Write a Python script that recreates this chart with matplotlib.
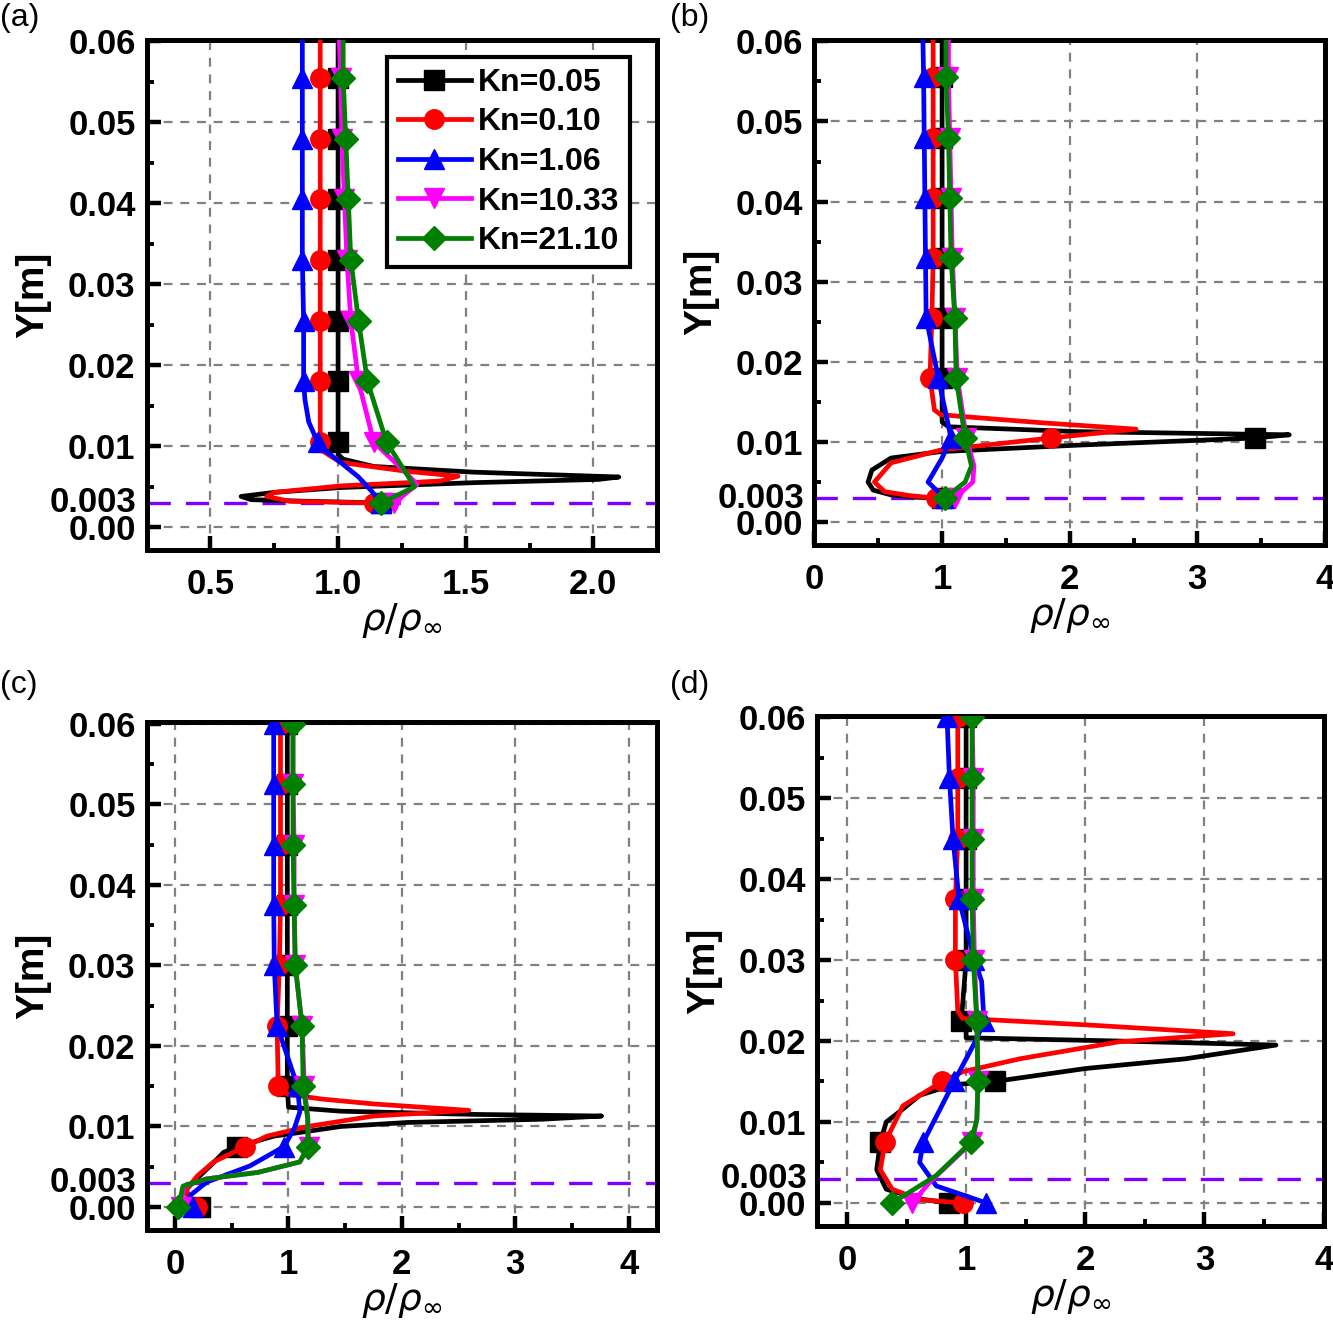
import numpy as np
import matplotlib
matplotlib.use('Agg')
import matplotlib.pyplot as plt
import matplotlib.transforms as mtransforms
from matplotlib.ticker import MultipleLocator

plt.rcParams['font.family'] = ['Liberation Sans', 'DejaVu Sans']
plt.rcParams['mathtext.fontset'] = 'dejavusans'

labels = ['Kn=0.05', 'Kn=0.10', 'Kn=1.06', 'Kn=10.33', 'Kn=21.10']
colors = ['black', 'red', 'blue', 'magenta', 'green']
markers = ['s', 'o', '^', 'v', 'D']

# ---- panel (a) ----
a_marks = [0.003, 0.0105, 0.018, 0.0255, 0.033, 0.0405, 0.048, 0.0555]
a_y_005 = [0.060, 0.0555, 0.048, 0.0405, 0.033, 0.0255, 0.018, 0.0105, 0.0090, 0.0084, 0.0075, 0.0068,
           0.0062, 0.0059, 0.0055, 0.0049, 0.0043, 0.0038, 0.0034, 0.0032, 0.003]
a_x_005 = [1.00, 1.00, 1.00, 1.00, 1.00, 1.00, 1.00, 1.00, 1.00, 1.02, 1.14, 1.53,
           2.10, 2.02, 1.53, 1.01, 0.75, 0.62, 0.66, 0.88, 1.17]
a_y_010 = [0.060, 0.0555, 0.048, 0.0405, 0.033, 0.0255, 0.018, 0.0105, 0.0096, 0.0080, 0.0069, 0.0063,
           0.0057, 0.0051, 0.0043, 0.0038, 0.0032, 0.003]
a_x_010 = [0.93, 0.93, 0.93, 0.93, 0.93, 0.93, 0.93, 0.93, 0.93, 1.01, 1.27, 1.47,
           1.40, 1.01, 0.75, 0.72, 0.81, 1.14]
a_y_106 = [0.060, 0.0555, 0.048, 0.0405, 0.033, 0.0255, 0.018, 0.0158, 0.0130, 0.0105, 0.0092, 0.0080,
           0.0062, 0.0045, 0.003]
a_x_106 = [0.86, 0.86, 0.86, 0.86, 0.86, 0.865, 0.865, 0.87, 0.885, 0.92, 0.96, 1.01,
           1.08, 1.13, 1.17]
a_y_1033 = [0.060, 0.0555, 0.048, 0.0405, 0.033, 0.0255, 0.018, 0.0105, 0.0075, 0.0053, 0.003]
a_x_1033 = [1.005, 1.01, 1.015, 1.025, 1.035, 1.05, 1.08, 1.14, 1.24, 1.31, 1.22]
a_y_2110 = [0.060, 0.0555, 0.048, 0.0405, 0.033, 0.0255, 0.018, 0.0105, 0.0075, 0.0050, 0.003]
a_x_2110 = [1.02, 1.02, 1.03, 1.04, 1.05, 1.08, 1.115, 1.19, 1.25, 1.30, 1.17]

# ---- panel (b) ----
b_marks = a_marks
b_y_005 = [0.060, 0.0555, 0.048, 0.0405, 0.033, 0.0255, 0.018, 0.0125, 0.0119, 0.0113, 0.0109, 0.0105,
           0.0096, 0.0088, 0.0080, 0.0065, 0.0050, 0.0040, 0.0034, 0.0031, 0.003]
b_x_005 = [1.0, 1.0, 1.0, 1.0, 1.0, 1.0, 1.0, 1.0, 1.05, 2.05, 3.72, 3.45,
           2.05, 0.99, 0.60, 0.45, 0.42, 0.46, 0.60, 0.80, 1.0]
b_y_010 = [0.060, 0.0555, 0.048, 0.0405, 0.033, 0.0255, 0.018, 0.0140, 0.0134, 0.0124, 0.0116, 0.0105,
           0.0090, 0.0074, 0.0050, 0.0038, 0.0033, 0.003]
b_x_010 = [0.93, 0.93, 0.93, 0.93, 0.93, 0.92, 0.905, 0.94, 0.99, 1.78, 2.52, 1.85,
           0.99, 0.60, 0.47, 0.55, 0.75, 0.95]
b_y_106 = [0.060, 0.0555, 0.048, 0.0405, 0.033, 0.0255, 0.018, 0.0105, 0.0080, 0.0050, 0.003]
b_x_106 = [0.85, 0.855, 0.86, 0.865, 0.87, 0.875, 0.97, 1.07, 1.00, 0.89, 1.02]
b_y_1033 = [0.060, 0.0555, 0.048, 0.0405, 0.033, 0.0255, 0.018, 0.0105, 0.0070, 0.0050, 0.003]
b_x_1033 = [1.05, 1.05, 1.06, 1.07, 1.08, 1.10, 1.12, 1.19, 1.25, 1.24, 1.10]
b_y_2110 = [0.060, 0.0555, 0.048, 0.0405, 0.033, 0.0255, 0.018, 0.0105, 0.0070, 0.0050, 0.003]
b_x_2110 = [1.03, 1.03, 1.05, 1.06, 1.07, 1.10, 1.11, 1.18, 1.23, 1.18, 1.02]

# ---- panel (c) ----
c_marks = [0.0, 0.0075, 0.015, 0.0225, 0.030, 0.0375, 0.045, 0.0525, 0.06]
c_y_005 = [0.06, 0.0525, 0.045, 0.0375, 0.030, 0.0225, 0.015, 0.0124, 0.0119, 0.0115, 0.0113, 0.0109,
           0.0105, 0.0100, 0.0094, 0.0088, 0.0075, 0.0068, 0.0051, 0.0035, 0.0022, 0.0010, 0.0]
c_x_005 = [0.99, 0.99, 0.99, 0.99, 0.99, 0.99, 0.99, 1.00, 1.46, 2.64, 3.76, 3.23,
           2.05, 1.46, 1.17, 0.87, 0.55, 0.43, 0.31, 0.19, 0.10, 0.12, 0.22]
c_y_010 = [0.06, 0.0525, 0.045, 0.0375, 0.030, 0.0225, 0.015, 0.0140, 0.0134, 0.0128, 0.0120, 0.0113,
           0.0100, 0.0088, 0.0075, 0.0056, 0.0039, 0.0022, 0.0010, 0.0]
c_x_010 = [0.93, 0.93, 0.93, 0.93, 0.92, 0.90, 0.91, 0.99, 1.30, 1.75, 2.59, 1.75,
           1.17, 0.81, 0.62, 0.34, 0.20, 0.10, 0.13, 0.19]
c_y_106 = [0.06, 0.0525, 0.045, 0.0375, 0.030, 0.0225, 0.0175, 0.015, 0.0118, 0.0097, 0.0075, 0.0051,
           0.0031, 0.0014, 0.0]
c_x_106 = [0.87, 0.87, 0.87, 0.87, 0.875, 0.90, 1.02, 1.08, 1.10, 1.05, 0.96, 0.66,
           0.28, 0.13, 0.16]
c_y_1033 = [0.06, 0.0525, 0.045, 0.0375, 0.030, 0.0225, 0.015, 0.0110, 0.0075, 0.0056, 0.0043, 0.0035,
            0.0026, 0.0]
c_x_1033 = [1.04, 1.04, 1.05, 1.05, 1.06, 1.12, 1.14, 1.17, 1.18, 1.10, 0.73, 0.28, 0.08, 0.05]
c_y_2110 = [0.06, 0.0525, 0.045, 0.0375, 0.030, 0.0225, 0.015, 0.0110, 0.0075, 0.0056, 0.0043, 0.0035,
            0.0026, 0.0]
c_x_2110 = [1.04, 1.04, 1.04, 1.05, 1.06, 1.12, 1.13, 1.17, 1.17, 1.10, 0.73, 0.28, 0.07, 0.03]

# ---- panel (d) ----
d_marks = c_marks
d_y_005 = [0.06, 0.0525, 0.045, 0.0375, 0.030, 0.0225, 0.0212, 0.0204, 0.0200, 0.0195, 0.0178, 0.0166,
           0.015, 0.0146, 0.0133, 0.0116, 0.0100, 0.0075, 0.0041, 0.0017, 0.0005, 0.0]
d_x_005 = [1.0, 1.0, 1.0, 1.0, 1.0, 0.96, 1.0, 1.0, 2.28, 3.60, 2.84, 2.0,
           1.24, 0.89, 0.61, 0.47, 0.33, 0.28, 0.25, 0.33, 0.60, 0.86]
d_y_010 = [0.06, 0.0525, 0.045, 0.0375, 0.030, 0.0237, 0.0228, 0.0220, 0.0209, 0.0199, 0.0178, 0.0162,
           0.015, 0.012, 0.0075, 0.0041, 0.0017, 0.0004, 0.0]
d_x_010 = [0.93, 0.93, 0.93, 0.91, 0.91, 0.93, 0.97, 2.0, 3.24, 2.28, 1.45, 0.97,
           0.80, 0.47, 0.32, 0.28, 0.38, 0.61, 0.97]
d_y_106 = [0.06, 0.0525, 0.045, 0.0375, 0.030, 0.0274, 0.0225, 0.0203, 0.015, 0.0075, 0.0050, 0.0021, 0.0]
d_x_106 = [0.84, 0.86, 0.89, 0.94, 1.07, 1.13, 1.15, 1.09, 0.90, 0.64, 0.61, 0.75, 1.17]
d_y_1033 = [0.06, 0.0525, 0.045, 0.0375, 0.030, 0.0225, 0.015, 0.0103, 0.0075, 0.0025, 0.0]
d_x_1033 = [1.05, 1.06, 1.06, 1.06, 1.07, 1.09, 1.10, 1.09, 1.05, 0.69, 0.55]
d_y_2110 = [0.06, 0.0525, 0.045, 0.0375, 0.030, 0.0225, 0.015, 0.0103, 0.0075, 0.0034, 0.0]
d_x_2110 = [1.05, 1.05, 1.05, 1.05, 1.06, 1.09, 1.10, 1.09, 1.04, 0.75, 0.38]

y_ticks = [0.0, 0.01, 0.02, 0.03, 0.04, 0.05, 0.06]
y_ticklabels = ['0.00', '0.01', '0.02', '0.03', '0.04', '0.05', '0.06']
wall_y = 0.003


def draw_panel(ax, series, marks, xlim, xticks, xticklabels, xminor, legend=False):
    for (y, x), c, m, lab in zip(series, colors, markers, labels):
        y = np.array(y)
        x = np.array(x)
        idx = list(np.where(np.isin(np.round(y, 5), np.round(marks, 5)))[0])
        ms = 12 if m == 'D' else 14
        ax.plot(x, y, color=c, lw=3.4, marker=m, ms=ms, mec=c, mfc=c,
                markevery=idx, label=lab, zorder=3)
    ax.axhline(wall_y, color='#7B00FF', lw=2.4, dashes=(7, 4.5), zorder=2)
    ax.set_xlim(*xlim)
    ax.set_ylim(-0.0028, 0.0602)
    ax.set_xticks(xticks)
    ax.set_xticklabels(xticklabels)
    ax.xaxis.set_minor_locator(MultipleLocator(xminor))
    ax.set_yticks(y_ticks)
    ax.set_yticklabels(y_ticklabels)
    ax.yaxis.set_minor_locator(MultipleLocator(0.005))
    ax.grid(True, which='major', color='#808080', lw=1.6, dashes=(4, 3.5), zorder=1)
    ax.tick_params(which='major', direction='in', length=10, width=3.2, labelsize=25, pad=8)
    ax.tick_params(axis='x', which='major', pad=13)
    ax.tick_params(which='minor', direction='in', length=5, width=2.8)
    for lbl in ax.get_xticklabels() + ax.get_yticklabels():
        lbl.set_fontweight('bold')
    for sp in ax.spines.values():
        sp.set_linewidth(3.6)
    trans = mtransforms.blended_transform_factory(ax.transAxes, ax.transData)
    ax.text(-0.02, wall_y, '0.003', transform=trans, ha='right', va='center',
            fontsize=25, fontweight='bold')
    ax.set_ylabel('Y[m]', fontsize=28, fontweight='bold', labelpad=12)
    ax.set_xlabel(r'$\rho/\rho_{\infty}$', fontsize=27, labelpad=0)
    if legend:
        leg = ax.legend(loc='upper right', bbox_to_anchor=(0.947, 0.967), borderaxespad=0,
                        prop={'weight': 'bold', 'size': 23}, frameon=True, framealpha=1,
                        fancybox=False, edgecolor='black', handlelength=2.3,
                        handletextpad=0.2, labelspacing=0.3, borderpad=0.35)
        leg.get_frame().set_linewidth(3)
        leg.set_zorder(5)


fig = plt.figure(figsize=(13.33, 13.25), dpi=100)

ax_a = fig.add_axes([0.110, 0.585, 0.383, 0.385])
draw_panel(ax_a, [(a_y_005, a_x_005), (a_y_010, a_x_010), (a_y_106, a_x_106),
                  (a_y_1033, a_x_1033), (a_y_2110, a_x_2110)], a_marks,
           (0.25, 2.25), [0.5, 1.0, 1.5, 2.0], ['0.5', '1.0', '1.5', '2.0'], 0.25, legend=True)

ax_b = fig.add_axes([0.611, 0.589, 0.383, 0.381])
draw_panel(ax_b, [(b_y_005, b_x_005), (b_y_010, b_x_010), (b_y_106, b_x_106),
                  (b_y_1033, b_x_1033), (b_y_2110, b_x_2110)], b_marks,
           (0.0, 4.0), [0, 1, 2, 3, 4], ['0', '1', '2', '3', '4'], 0.5)

ax_c = fig.add_axes([0.110, 0.072, 0.383, 0.383])
draw_panel(ax_c, [(c_y_005, c_x_005), (c_y_010, c_x_010), (c_y_106, c_x_106),
                  (c_y_1033, c_x_1033), (c_y_2110, c_x_2110)], c_marks,
           (-0.25, 4.25), [0, 1, 2, 3, 4], ['0', '1', '2', '3', '4'], 0.5)

ax_d = fig.add_axes([0.613, 0.075, 0.380, 0.385])
draw_panel(ax_d, [(d_y_005, d_x_005), (d_y_010, d_x_010), (d_y_106, d_x_106),
                  (d_y_1033, d_x_1033), (d_y_2110, d_x_2110)], d_marks,
           (-0.25, 4.0), [0, 1, 2, 3, 4], ['0', '1', '2', '3', '4'], 0.5)

fig.text(0.0, 0.998, '(a)', fontsize=23, ha='left', va='top')
fig.text(0.503, 0.998, '(b)', fontsize=23, ha='left', va='top')
fig.text(0.0, 0.494, '(c)', fontsize=23, ha='left', va='top')
fig.text(0.503, 0.494, '(d)', fontsize=23, ha='left', va='top')

fig.savefig('out.png', dpi=100)
plt.close(fig)
